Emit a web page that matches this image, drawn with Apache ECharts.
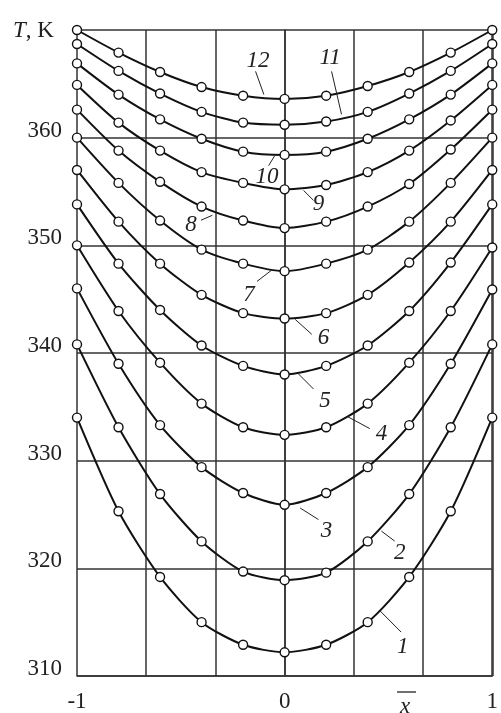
<!DOCTYPE html>
<html><head><meta charset="utf-8">
<script src="https://cdn.jsdelivr.net/npm/echarts@6/dist/echarts.min.js"></script>
<style>html,body{margin:0;padding:0;background:#fff}#c{width:501px;height:713px}</style>
</head><body><div id="c"></div>
<script>
var xs = [-1, -0.8, -0.6, -0.4, -0.2, 0, 0.2, 0.4, 0.6, 0.8, 1];
var curve1  = [334.0, 325.3, 319.2, 315.0, 312.9, 312.2, 312.9, 315.0, 319.2, 325.3, 334.0];
var curve2  = [340.8, 333.1, 326.9, 322.5, 319.7, 318.9, 319.6, 322.5, 326.9, 333.1, 340.8];
var curve3  = [346.0, 339.0, 333.3, 329.4, 327.0, 325.9, 327.0, 329.4, 333.3, 339.0, 345.9];
var curve4  = [350.0, 343.9, 339.1, 335.3, 333.1, 332.4, 333.1, 335.3, 339.1, 343.9, 349.8];
var curve5  = [353.8, 348.3, 344.0, 340.7, 338.8, 338.0, 338.8, 340.7, 343.9, 348.4, 353.8];
var curve6  = [357.0, 352.2, 348.3, 345.4, 343.7, 343.2, 343.7, 345.4, 348.4, 352.2, 357.0];
var curve7  = [360.0, 355.8, 352.3, 349.6, 348.3, 347.6, 348.3, 349.6, 352.2, 355.8, 360.0];
var curve8  = [362.6, 358.8, 355.9, 353.6, 352.3, 351.6, 352.2, 353.6, 355.7, 358.9, 362.6];
var curve9  = [364.9, 361.4, 358.8, 356.8, 355.8, 355.2, 355.6, 356.8, 358.8, 361.6, 364.9];
var curve10 = [366.9, 364.0, 361.7, 359.9, 358.7, 358.4, 358.7, 359.9, 361.7, 364.0, 366.9];
var curve11 = [368.7, 366.2, 364.1, 362.4, 361.4, 361.2, 361.5, 362.4, 364.1, 366.2, 368.7];
var curve12 = [370.0, 367.9, 366.1, 364.7, 363.9, 363.6, 363.9, 364.8, 366.1, 367.9, 370.0];
var curves = [curve1, curve2, curve3, curve4, curve5, curve6, curve7, curve8, curve9, curve10, curve11, curve12];
var curveNames = ['1','2','3','4','5','6','7','8','9','10','11','12'];
var yTicks = [310, 320, 330, 340, 350, 360, 370];
var xTickLabels = {'-1': '-1', '0': '0', '1': '1'};
// curve number annotations: label position and leader line, in data coordinates
var labelX  = [0.569, 0.554, 0.202, 0.466, 0.195, 0.187, -0.172, -0.451, 0.163, -0.085, 0.219, -0.128];
var labelY  = [312.70, 321.46, 323.46, 332.52, 335.59, 341.43, 345.42, 351.87, 353.87, 356.33, 367.39, 367.17];
var leadX1  = [0.458, 0.466, 0.075, 0.306, 0.067, 0.051, -0.061, -0.348, 0.091, -0.048, 0.274, -0.100];
var leadY1  = [316.08, 323.46, 325.60, 334.06, 338.05, 343.12, 347.72, 352.79, 355.10, 358.32, 362.17, 364.01];
var leadX2  = [0.561, 0.530, 0.163, 0.410, 0.139, 0.131, -0.133, -0.403, 0.139, -0.077, 0.226, -0.140];
var leadY2  = [314.08, 322.53, 324.53, 332.98, 336.66, 341.73, 346.65, 352.33, 354.18, 357.40, 366.16, 366.16];

var serif = '"Liberation Serif","DejaVu Serif",serif';
var chart = echarts.init(document.getElementById('c'), null, {renderer: 'canvas'});

var series = curves.map(function (vals, i) {
  return {
    name: curveNames[i], type: 'line', smooth: 0.25,
    data: xs.map(function (x, j) { return [x, vals[j]]; }),
    symbol: 'circle', symbolSize: 9,
    lineStyle: {color: '#111', width: 2},
    itemStyle: {color: '#fff', borderColor: '#111', borderWidth: 1.4},
    z: 3, clip: false
  };
});
var annData = curveNames.map(function (n, i) {
  return [labelX[i], labelY[i], leadX1[i], leadY1[i], leadX2[i], leadY2[i], i];
});
series.push({
  type: 'custom', clip: false, z: 5,
  data: annData,
  renderItem: function (params, api) {
    var t = api.coord([api.value(0), api.value(1)]);
    var a = api.coord([api.value(2), api.value(3)]);
    var b = api.coord([api.value(4), api.value(5)]);
    return {
      type: 'group',
      children: [
        {type: 'line', shape: {x1: a[0], y1: a[1], x2: b[0], y2: b[1]}, style: {stroke: '#222', lineWidth: 1}},
        {type: 'text', x: t[0], y: t[1], style: {text: curveNames[api.value(6)], fill: '#222',
          font: 'italic 23px ' + serif, textAlign: 'center', textVerticalAlign: 'middle'}}
      ]
    };
  }
});

chart.setOption({
  animation: false,
  backgroundColor: '#fff',
  title: {
    text: '{i|T}, K', left: 8, top: 14,
    textStyle: {fontFamily: serif, fontSize: 23, fontWeight: 'normal', color: '#222',
      rich: {i: {fontFamily: serif, fontSize: 23, fontStyle: 'italic', color: '#222'}}}
  },
  grid: {left: 77, right: 6, top: 30, bottom: 32, containLabel: false},
  xAxis: {
    type: 'value', min: -1, max: 1, interval: 1 / 3,
    axisLine: {show: true, lineStyle: {color: '#333', width: 1.5}},
    axisTick: {show: false},
    splitLine: {show: true, lineStyle: {color: '#333', width: 1.5}},
    axisLabel: {
      margin: 14, fontFamily: serif, fontSize: 23, color: '#222', showMaxLabel: true, showMinLabel: true,
      formatter: function (v) {
        var r = Math.round(v * 1000) / 1000;
        var k = String(r);
        return xTickLabels.hasOwnProperty(k) ? xTickLabels[k] : '';
      }
    }
  },
  yAxis: {
    type: 'value', min: yTicks[0], max: yTicks[yTicks.length - 1], interval: 10,
    axisLine: {show: true, lineStyle: {color: '#333', width: 1.5}},
    axisTick: {show: false},
    splitLine: {show: true, lineStyle: {color: '#333', width: 1.5}},
    axisLabel: {
      margin: 15, fontFamily: serif, fontSize: 23, color: '#222',
      verticalAlign: 'bottom', lineHeight: 14,
      formatter: function (v) { return v === yTicks[yTicks.length - 1] ? '' : String(v); }
    }
  },
  graphic: [
    {type: 'text', left: 400, top: 695, style: {text: 'x', font: 'italic 23px ' + serif, fill: '#222'}},
    {type: 'line', shape: {x1: 397, y1: 692, x2: 416, y2: 692}, style: {stroke: '#222', lineWidth: 1.3}}
  ],
  series: series
});
</script></body></html>
